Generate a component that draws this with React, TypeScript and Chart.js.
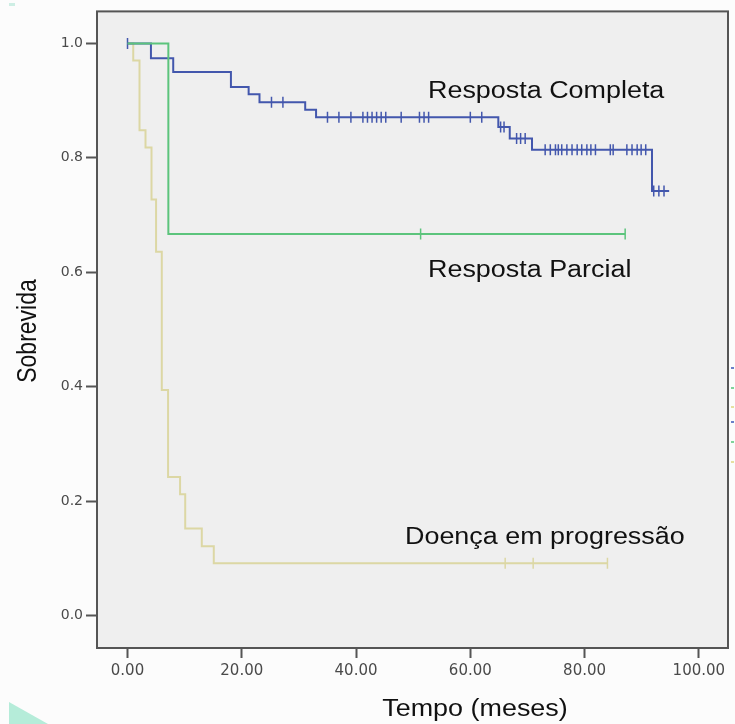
import React, { useEffect, useRef } from "react";
import { Chart, registerables } from "chart.js";

Chart.register(...registerables);

// ---- Data (months, survival) ----
const completaTimes = [0, 4.1, 8.0, 18.1, 21.2, 23.1, 31.1, 33.0, 64.9, 66.9, 70.8, 91.8];
const completaSurv = [1.0, 0.974, 0.95, 0.924, 0.911, 0.897, 0.884, 0.871, 0.854, 0.834, 0.814, 0.742];
const completaEnd = 94.8;
const completaCensors = [
  0, 25.2, 27.2, 35.0, 37.0, 39.1, 41.2, 42.0, 42.8, 43.6, 44.4, 45.2, 47.9, 51.1, 51.9, 52.7,
  60.0, 62.0, 65.3, 65.9, 68.1, 68.8, 69.6, 73.1, 74.0, 74.9, 75.4, 76.0, 76.9, 77.8, 78.7,
  79.5, 80.4, 81.1, 81.9, 84.5, 85.0, 87.4, 88.3, 89.2, 89.9, 90.7, 92.1, 93.0, 93.9,
];

const parcialTimes = [0, 7.15];
const parcialSurv = [1.0, 0.667];
const parcialEnd = 87.1;
const parcialCensors = [51.3, 87.1];

const progressaoTimes = [0, 1.0, 2.1, 3.15, 4.2, 5.0, 6.0, 7.1, 9.2, 10.1, 13.0, 15.1];
const progressaoSurv = [1.0, 0.97, 0.848, 0.818, 0.727, 0.636, 0.394, 0.242, 0.212, 0.152, 0.121, 0.091];
const progressaoEnd = 84.0;
const progressaoCensors = [66.1, 71.0, 84.0];

const xTicks = [0, 20, 40, 60, 80, 100];
const yTicks = [0, 0.2, 0.4, 0.6, 0.8, 1.0];

const BLUE = "#4357ad";
const GREEN = "#5cc47c";
const YELLOW = "#dcd7a4";

function stepPoints(times: number[], surv: number[], end: number) {
  const pts = times.map((t, i) => ({ x: t, y: surv[i] }));
  pts.push({ x: end, y: surv[surv.length - 1] });
  return pts;
}

function censorPoints(times: number[], surv: number[], cens: number[]) {
  return cens.map((c) => {
    let idx = 0;
    for (let i = 0; i < times.length; i++) if (times[i] <= c) idx = i;
    return { x: c, y: surv[idx] };
  });
}

function drawStretched(
  ctx: CanvasRenderingContext2D,
  text: string,
  x: number,
  y: number,
  sx: number,
  font: string,
  color: string
) {
  ctx.save();
  ctx.translate(x, y);
  ctx.scale(sx, 1);
  ctx.font = font;
  ctx.fillStyle = color;
  ctx.textAlign = "left";
  ctx.textBaseline = "alphabetic";
  ctx.fillText(text, 0, 0);
  ctx.restore();
}

const LABEL_FONT = "23px 'Liberation Sans', Arial, sans-serif";
const SX = 1.17;

const decorPlugin = {
  id: "decor",
  beforeDraw(chart: any) {
    const { ctx, chartArea: a, width, height } = chart;
    ctx.save();
    ctx.fillStyle = "#fcfcfc";
    ctx.fillRect(0, 0, width, height);
    ctx.fillStyle = "#efefef";
    ctx.fillRect(a.left, a.top, a.right - a.left, a.bottom - a.top);
    ctx.restore();
  },
  beforeDatasetsDraw(chart: any) {
    const { ctx, chartArea: a } = chart;
    ctx.save();
    ctx.strokeStyle = "#555555";
    ctx.lineWidth = 2;
    ctx.strokeRect(a.left, a.top, a.right - a.left, a.bottom - a.top);
    ctx.restore();
  },
  afterDraw(chart: any) {
    const { ctx } = chart;
    drawStretched(ctx, "Resposta Completa", 428, 98, SX, LABEL_FONT, "#111");
    drawStretched(ctx, "Resposta Parcial", 428, 277, SX, LABEL_FONT, "#111");
    drawStretched(ctx, "Doença em progressão", 405, 544, SX, LABEL_FONT, "#111");

    // x title
    ctx.save();
    ctx.font = LABEL_FONT;
    const tw = ctx.measureText("Tempo (meses)").width * SX;
    ctx.restore();
    drawStretched(ctx, "Tempo (meses)", 475 - tw / 2, 716, SX, LABEL_FONT, "#111");

    // y title
    ctx.save();
    ctx.translate(36, 331);
    ctx.scale(SX, 1);
    ctx.rotate(-Math.PI / 2);
    ctx.font = LABEL_FONT;
    ctx.fillStyle = "#111";
    ctx.textAlign = "center";
    ctx.textBaseline = "alphabetic";
    ctx.fillText("Sobrevida", 0, 0);
    ctx.restore();

    // clipped legend marks at right edge
    const marks: [number, string][] = [
      [368, "#6a7fc8"],
      [388, "#7fd39a"],
      [407, "#e6e0a0"],
      [422, "#6a7fc8"],
      [442, "#7fd39a"],
      [462, "#e6e0a0"],
    ];
    ctx.save();
    marks.forEach(([y, c]) => {
      ctx.fillStyle = c;
      ctx.fillRect(731, y - 1, 3, 2);
    });
    // teal decorations
    ctx.fillStyle = "#b5ecd9";
    ctx.beginPath();
    ctx.moveTo(9, 702);
    ctx.lineTo(48, 724);
    ctx.lineTo(9, 724);
    ctx.closePath();
    ctx.fill();
    ctx.fillStyle = "#cdeee4";
    ctx.fillRect(9, 3, 6, 3);
    ctx.restore();
  },
};

export default function App() {
  const ref = useRef<HTMLCanvasElement | null>(null);

  useEffect(() => {
    if (!ref.current) return;
    const lineDs = (label: string, data: any[], color: string, order: number) => ({
      type: "line" as const,
      label,
      data,
      borderColor: color,
      borderWidth: 2,
      stepped: true,
      pointRadius: 0,
      fill: false,
      order,
    });
    const censorDs = (label: string, data: any[], color: string, order: number) => ({
      type: "line" as const,
      label,
      data,
      showLine: false,
      pointStyle: "line",
      rotation: 90,
      pointRadius: 5.5,
      pointBorderWidth: 1.5,
      pointBorderColor: color,
      pointBackgroundColor: color,
      borderColor: color,
      order,
    });

    const chart = new Chart(ref.current, {
      type: "line",
      data: {
        datasets: [
          lineDs("Doença em progressão", stepPoints(progressaoTimes, progressaoSurv, progressaoEnd), YELLOW, 6),
          censorDs("pc", censorPoints(progressaoTimes, progressaoSurv, progressaoCensors), YELLOW, 5),
          lineDs("Resposta Completa", stepPoints(completaTimes, completaSurv, completaEnd), BLUE, 4),
          censorDs("cc", censorPoints(completaTimes, completaSurv, completaCensors), BLUE, 3),
          lineDs("Resposta Parcial", stepPoints(parcialTimes, parcialSurv, parcialEnd), GREEN, 2),
          censorDs("rc", censorPoints(parcialTimes, parcialSurv, parcialCensors), GREEN, 1),
        ] as any,
      },
      options: {
        animation: false,
        responsive: false,
        devicePixelRatio: 1,
        layout: { padding: { top: 11, right: 7, left: 0, bottom: 0 } },
        plugins: { legend: { display: false }, tooltip: { enabled: false } },
        scales: {
          x: {
            type: "linear",
            min: -5.34,
            max: 105.1,
            afterBuildTicks: (s: any) => {
              s.ticks = xTicks.map((v) => ({ value: v }));
            },
            afterFit: (s: any) => {
              s.height = 76;
            },
            grid: {
              drawOnChartArea: false,
              drawTicks: true,
              tickLength: 10,
              tickColor: "#555",
              tickWidth: 2,
            },
            border: { display: false },
            ticks: {
              autoSkip: false,
              maxRotation: 0,
              padding: 4,
              color: "#4a4a4a",
              font: { family: "'DejaVu Sans', sans-serif", size: 15 },
              callback: (v: any) => Number(v).toFixed(2),
            },
          },
          y: {
            type: "linear",
            min: -0.057,
            max: 1.056,
            afterBuildTicks: (s: any) => {
              s.ticks = yTicks.map((v) => ({ value: v }));
            },
            afterFit: (s: any) => {
              s.width = 97;
            },
            grid: {
              drawOnChartArea: false,
              drawTicks: true,
              tickLength: 11,
              tickColor: "#555",
              tickWidth: 2,
            },
            border: { display: false },
            ticks: {
              autoSkip: false,
              padding: 3,
              color: "#4a4a4a",
              font: { family: "'DejaVu Sans', sans-serif", size: 14 },
              callback: (v: any) => Number(v).toFixed(1),
            },
          },
        },
      },
      plugins: [decorPlugin],
    });
    return () => chart.destroy();
  }, []);

  return (
    <div style={{ position: "fixed", left: 0, top: 0, width: 735, height: 724 }}>
      <canvas ref={ref} width={735} height={724} style={{ width: 735, height: 724, display: "block" }} />
    </div>
  );
}
